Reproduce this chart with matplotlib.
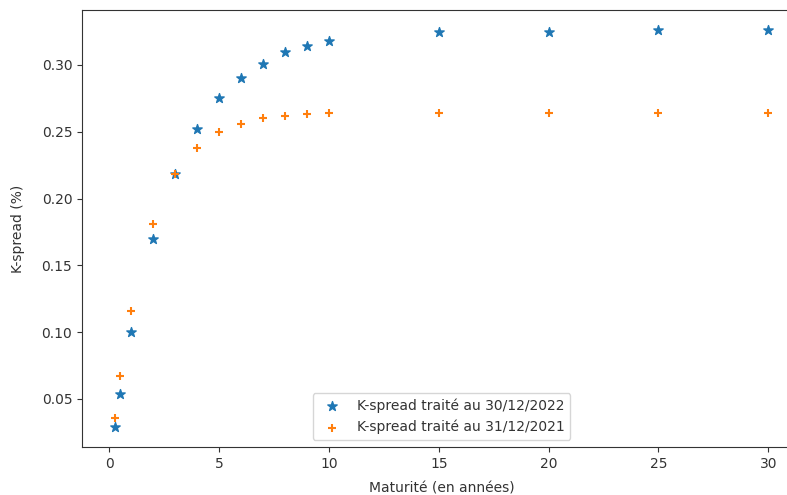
import matplotlib
matplotlib.use('Agg')
import matplotlib.pyplot as plt

# Maturités (en années)
maturites = [0.25, 0.5, 1, 2, 3, 4, 5, 6, 7, 8, 9, 10, 15, 20, 25, 30]

# K-spread (%) aux deux dates de calcul
kspread_2022 = [0.029, 0.054, 0.100, 0.170, 0.218, 0.252, 0.275, 0.290, 0.301,
                0.310, 0.314, 0.318, 0.325, 0.325, 0.326, 0.326]
kspread_2021 = [0.036, 0.067, 0.116, 0.181, 0.218, 0.238, 0.250, 0.256, 0.260,
                0.262, 0.263, 0.264, 0.264, 0.264, 0.264, 0.264]

gris = '#333333'
plt.rcParams.update({
    'text.color': gris,
    'axes.labelcolor': gris,
    'axes.edgecolor': gris,
    'xtick.color': gris,
    'ytick.color': gris,
})

fig = plt.figure(figsize=(7.87, 4.95), dpi=100)
ax = fig.add_axes([0.1043, 0.0974, 0.9135, 0.8816])

ax.scatter(maturites, kspread_2022, marker='*', s=50, label='K-spread traité au 30/12/2022')
ax.scatter(maturites, kspread_2021, marker='+', s=40, label='K-spread traité au 31/12/2021')

ax.set_xlabel('Maturité (en années)', labelpad=8)
ax.set_ylabel('K-spread (%)', labelpad=12)
ax.spines['right'].set_visible(False)
ax.legend(loc='lower center')

fig.savefig('out.png', dpi=100)
